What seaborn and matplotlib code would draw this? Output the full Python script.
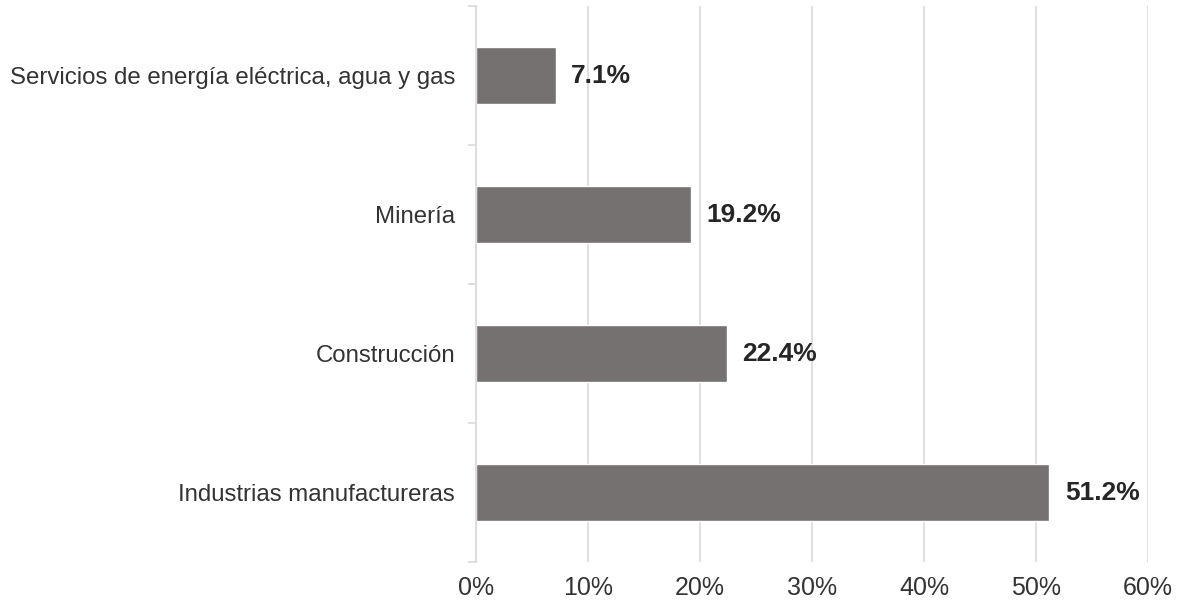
import matplotlib
matplotlib.use("Agg")
import matplotlib.pyplot as plt
from matplotlib.ticker import FixedLocator, PercentFormatter
import seaborn as sns
import pandas as pd

sectores = [
    "Servicios de energía eléctrica, agua y gas",
    "Minería",
    "Construcción",
    "Industrias manufactureras",
]
participacion = [7.1, 19.2, 22.4, 51.2]
x_ticks = [0, 10, 20, 30, 40, 50, 60]

df = pd.DataFrame({"sector": sectores, "valor": participacion})

sns.set_theme(style="white")
plt.rcParams["font.family"] = ["Liberation Sans", "DejaVu Sans"]

fig = plt.figure(figsize=(11.8, 6.03), dpi=100)
ax = fig.add_axes([0.4034, 0.068, 0.5695, 0.922])

sns.barplot(data=df, x="valor", y="sector", order=sectores, orient="h",
            color="#767171", saturation=1, width=0.41, ax=ax, zorder=3)

ax.set_xlim(0, 60)
ax.set_ylim(3.5, -0.5)
ax.xaxis.set_major_locator(FixedLocator(x_ticks))
ax.xaxis.set_major_formatter(PercentFormatter(decimals=0))
ax.grid(axis="x", color="#d9d9d9", linewidth=1.2, zorder=0)
ax.grid(axis="y", visible=False)

for s in ["top", "right", "bottom"]:
    ax.spines[s].set_visible(False)
ax.spines["left"].set_color("#d9d9d9")
ax.spines["left"].set_linewidth(1.2)
ax.spines["left"].set_zorder(4)

ax.set_xlabel("")
ax.set_ylabel("")
ax.tick_params(axis="x", length=0, pad=10, labelsize=18, labelcolor="#333333")
ax.tick_params(axis="y", which="major", length=0, pad=15, labelsize=17.3,
               labelcolor="#333333")
ax.yaxis.set_minor_locator(FixedLocator([-0.5, 0.5, 1.5, 2.5, 3.5]))
ax.tick_params(axis="y", which="minor", left=True, length=6, width=1.2,
               color="#d9d9d9")

for i, v in enumerate(participacion):
    ax.annotate(f"{v:.1f}%", xy=(v, i), xytext=(11, 0), textcoords="offset points",
                va="center", ha="left", fontsize=19, fontweight="bold",
                color="#262626")

fig.savefig("out.png", dpi=100, facecolor="white")
